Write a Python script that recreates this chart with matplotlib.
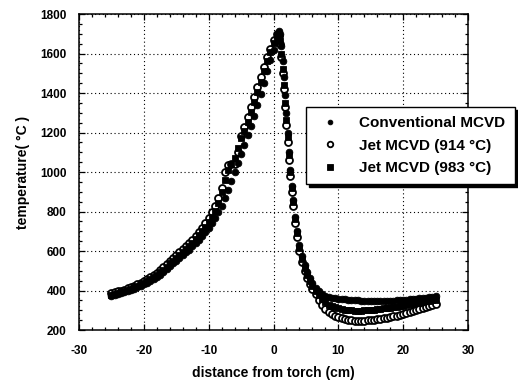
import matplotlib
matplotlib.use("Agg")
import matplotlib.pyplot as plt
from matplotlib.ticker import MultipleLocator

# sample positions along the tube (cm from torch)
distance = [
    -25, -24.5, -24, -23.5, -23, -22.5, -22, -21.5, -21, -20.5,
    -20, -19.5, -19, -18.5, -18, -17.5, -17, -16.5, -16, -15.5,
    -15, -14.5, -14, -13.5, -13, -12.5, -12, -11.5, -11, -10.5,
    -10, -9.5, -9, -8.5, -8, -7.5, -7, -6.5, -6, -5.5,
    -5, -4.5, -4, -3.5, -3, -2.5, -2, -1.5, -1, -0.5,
    0, 0.5,
    0.8, 1.0, 1.2, 1.4, 1.6, 1.8, 2.0, 2.2, 2.4, 2.6,
    2.8, 3.0, 3.3, 3.6, 4.0, 4.4, 4.8, 5.2, 5.6, 6.0,
    6.5, 7, 7.5, 8, 8.5, 9, 9.5, 10, 10.5, 11,
    11.5, 12, 12.5, 13, 13.5, 14, 14.5, 15, 15.5, 16,
    16.5, 17, 17.5, 18, 18.5, 19, 19.5, 20, 20.5, 21,
    21.5, 22, 22.5, 23, 23.5, 24, 24.5, 25,
]

conventional = [
    372, 377, 382, 387, 392, 398, 403, 409, 416, 423,
    431, 440, 449, 459, 470, 481, 494, 508, 523, 537,
    551, 565, 579, 593, 607, 623, 640, 657, 676, 696,
    717, 740, 766, 796, 830, 868, 910, 955, 1000, 1045,
    1090, 1135, 1185, 1235, 1285, 1340, 1395, 1450, 1510, 1565,
    1620, 1680,
    1715, 1700, 1640, 1560, 1480, 1390, 1300, 1200, 1100, 1010,
    930, 860, 770, 700, 630, 575, 530, 495, 465, 440,
    415, 395, 380, 370, 365, 362, 360, 358, 356, 355,
    353, 352, 351, 350, 349, 348, 347, 347, 347, 347,
    347, 347, 348, 348, 349, 350, 351, 352, 353, 355,
    356, 358, 360, 362, 364, 366, 368, 370,
]

jet_914 = [
    385, 390, 395, 400, 405, 411, 417, 424, 431, 440,
    449, 458, 468, 479, 491, 503, 517, 532, 549, 563,
    578, 593, 608, 624, 640, 657, 676, 697, 718, 741,
    766, 795, 830, 870, 920, 1000, 1035, 1040, 1042, 1100,
    1180, 1230, 1280, 1330, 1380, 1430, 1480, 1530, 1580, 1625,
    1670, 1700,
    1690, 1650, 1580, 1500, 1420, 1330, 1240, 1150, 1060, 980,
    900, 830, 740, 670, 600, 545, 500, 465, 435, 410,
    380, 352, 327, 307, 292, 280, 271, 264, 259, 255,
    252, 250, 248, 247, 247, 248, 249, 250, 252, 254,
    257, 260, 263, 266, 270, 273, 277, 281, 285, 290,
    295, 300, 305, 311, 316, 322, 327, 333,
]

jet_983 = [
    378, 383, 388, 393, 398, 404, 410, 416, 423, 431,
    440, 449, 458, 469, 480, 492, 505, 520, 537, 551,
    565, 580, 595, 610, 625, 642, 660, 680, 700, 722,
    745, 773, 805, 845, 900, 960, 1010, 1040, 1070, 1120,
    1170, 1210, 1255, 1305, 1355, 1405, 1455, 1510, 1560, 1610,
    1655, 1695,
    1700, 1665, 1600, 1520, 1440, 1350, 1265, 1175, 1085, 1000,
    920, 850, 760, 690, 615, 560, 515, 480, 450, 425,
    398, 375, 356, 340, 329, 320, 314, 309, 305, 302,
    300, 299, 298, 298, 298, 299, 300, 301, 303, 305,
    307, 309, 311, 313, 316, 318, 321, 324, 327, 330,
    333, 336, 339, 342, 345, 348, 351, 354,
]

labels = ["Conventional MCVD", "Jet MCVD (914 \u00b0C)", "Jet MCVD (983 \u00b0C)"]

plt.rcParams["font.family"] = ["Liberation Sans", "DejaVu Sans"]
plt.rcParams["font.weight"] = "bold"
plt.rcParams["axes.unicode_minus"] = False

fig = plt.figure(figsize=(5.18, 3.84), dpi=100)
ax = fig.add_axes([0.1525, 0.1406, 0.751, 0.8229])

h914, = ax.plot(distance, jet_914, ls="none", marker="o", ms=5.0,
                mfc="white", mec="black", mew=1.3)
h983, = ax.plot(distance, jet_983, ls="none", marker="s", ms=4.8,
                mfc="black", mec="black", mew=0.6)
hconv, = ax.plot(distance, conventional, ls="none", marker="o", ms=4.8,
                 mfc="black", mec="black", mew=0.6)

ax.set_xlim(-30, 30)
ax.set_ylim(200, 1800)
ax.xaxis.set_major_locator(MultipleLocator(10))
ax.xaxis.set_minor_locator(MultipleLocator(2))
ax.yaxis.set_major_locator(MultipleLocator(200))
ax.yaxis.set_minor_locator(MultipleLocator(50))
ax.tick_params(which="both", direction="in", top=True, right=True,
               labelsize=8.5, width=0.9)
ax.tick_params(axis="x", pad=11)
ax.tick_params(axis="y", pad=9)
ax.tick_params(which="major", length=4)
ax.tick_params(which="minor", length=2.5)
for s in ax.spines.values():
    s.set_linewidth(1.1)
ax.grid(True, which="major", color="black", ls=(0, (1, 2.5)), lw=0.8)

ax.set_xlabel("distance from torch (cm)", fontsize=10, fontweight="bold", labelpad=6)
ax.set_ylabel("temperature( \u00b0C )", fontsize=10, fontweight="bold", labelpad=7)

leg = fig.legend([hconv, h914, h983], labels,
                 loc="upper left", bbox_to_anchor=(306 / 518, 1 - 107 / 384),
                 fontsize=11, frameon=True, fancybox=False,
                 edgecolor="black", framealpha=1, borderpad=0.6,
                 handlelength=2.0, handletextpad=0.9, labelspacing=0.55,
                 borderaxespad=0,
                 shadow={"color": "black", "alpha": 1})
leg.get_frame().set_linewidth(1.0)
for lh, ms in zip(leg.legend_handles, (3.4, 4.0, 4.8)):
    lh.set_markersize(ms)

fig.savefig("out.png", dpi=100, facecolor="white")
